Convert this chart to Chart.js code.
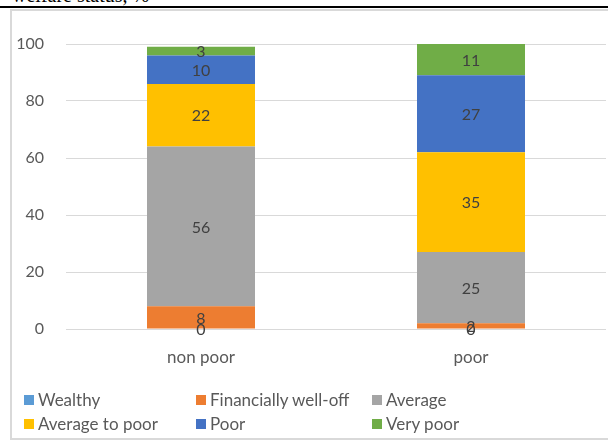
<!DOCTYPE html>
<html>
<head>
<meta charset="utf-8">
<script src="https://cdn.jsdelivr.net/npm/chart.js@4"></script>
<style>
    body { margin: 0; width: 608px; height: 443px; overflow: hidden; background: #fff; position: relative; font-family: Lato, sans-serif; }
    #titulo { position: absolute; left: 12px; top: -15px; font-family: "Liberation Serif", serif; font-size: 20px; line-height: 20px; color: #000; white-space: nowrap; }
    #linea { position: absolute; left: 0; top: 6px; width: 608px; height: 2px; background: #000; }
    #marco { position: absolute; left: 10px; top: 9px; width: 700px; height: 431px; border: 2px solid #d9d9d9; box-sizing: border-box; }
    #grafica-contenedor { position: absolute; left: 0; top: 0; width: 608px; height: 443px; }
    #leyenda { position: absolute; left: 0; top: 389px; width: 608px; }
    .item { position: absolute; font-size: 17px; color: #595959; white-space: nowrap; line-height: 22px; }
    .item span { display: inline-block; width: 10px; height: 10px; margin-right: 4px; vertical-align: 1px; }
</style>
</head>
<body>
<div id="titulo">welfare status, %</div>
<div id="linea"></div>
<div id="marco"></div>
<div id="grafica-contenedor"><canvas id="grafica-bienestar" width="608" height="443"></canvas></div>
<div id="leyenda"></div>
<script>
//Datos del gráfico
const categorias = ['non poor', 'poor'];
const wealthy = [0, 0];
const financiallyWellOff = [8, 2];
const average = [56, 25];
const averageToPoor = [22, 35];
const poorGroup = [10, 27];
const veryPoor = [3, 11];
const ticksY = [0, 20, 40, 60, 80, 100];

const series = [
    { label: 'Wealthy', data: wealthy, color: '#5B9BD5' },
    { label: 'Financially well-off', data: financiallyWellOff, color: '#ED7D31' },
    { label: 'Average', data: average, color: '#A5A5A5' },
    { label: 'Average to poor', data: averageToPoor, color: '#FFC000' },
    { label: 'Poor', data: poorGroup, color: '#4472C4' },
    { label: 'Very poor', data: veryPoor, color: '#70AD47' }
];

//Etiquetas de valor en el centro de cada segmento
const etiquetasValor = {
    id: 'etiquetasValor',
    afterDatasetsDraw(chart) {
        const ctx = chart.ctx;
        ctx.save();
        ctx.font = '16px Lato';
        ctx.fillStyle = '#404040';
        ctx.textAlign = 'center';
        ctx.textBaseline = 'middle';
        chart.data.datasets.forEach((ds, i) => {
            chart.getDatasetMeta(i).data.forEach((bar, j) => {
                const y = (bar.y + bar.base) / 2;
                ctx.fillText(String(ds.data[j]), bar.x, y + 1);
            });
        });
        ctx.restore();
    }
};

const ctx = document.getElementById('grafica-bienestar').getContext('2d');
const grafica = new Chart(ctx, {
    type: 'bar',
    data: {
        labels: categorias,
        datasets: series.map(s => ({
            label: s.label,
            data: s.data,
            backgroundColor: s.color,
            borderWidth: 0,
            barPercentage: 0.4,
            categoryPercentage: 1
        }))
    },
    options: {
        responsive: false,
        animation: false,
        layout: { padding: { top: 44, right: 2, left: 0, bottom: 0 } },
        plugins: {
            legend: { display: false },
            tooltip: { enabled: false }
        },
        scales: {
            x: {
                stacked: true,
                grid: { display: false },
                border: { display: false },
                ticks: { color: '#595959', font: { family: 'Lato', size: 17 }, padding: 10 },
                afterFit: scale => { scale.height = 114; }
            },
            y: {
                stacked: true,
                min: 0,
                max: 100,
                afterBuildTicks: scale => { scale.ticks = ticksY.map(v => ({ value: v })); },
                grid: { color: '#d9d9d9', drawTicks: false },
                border: { display: false },
                ticks: { color: '#595959', font: { family: 'Lato', size: 16 }, padding: 22 },
                afterFit: scale => { scale.width = 66; }
            }
        }
    },
    plugins: [etiquetasValor]
});

//Leyenda en tres columnas
const posiciones = [[24, 0], [196, 0], [372, 0], [24, 24], [196, 24], [372, 24]];
const leyenda = document.getElementById('leyenda');
series.forEach((s, i) => {
    const div = document.createElement('div');
    div.className = 'item';
    div.style.left = posiciones[i][0] + 'px';
    div.style.top = posiciones[i][1] + 'px';
    div.innerHTML = '<span style="background:' + s.color + '"></span>' + s.label;
    leyenda.appendChild(div);
});
</script>
</body>
</html>
